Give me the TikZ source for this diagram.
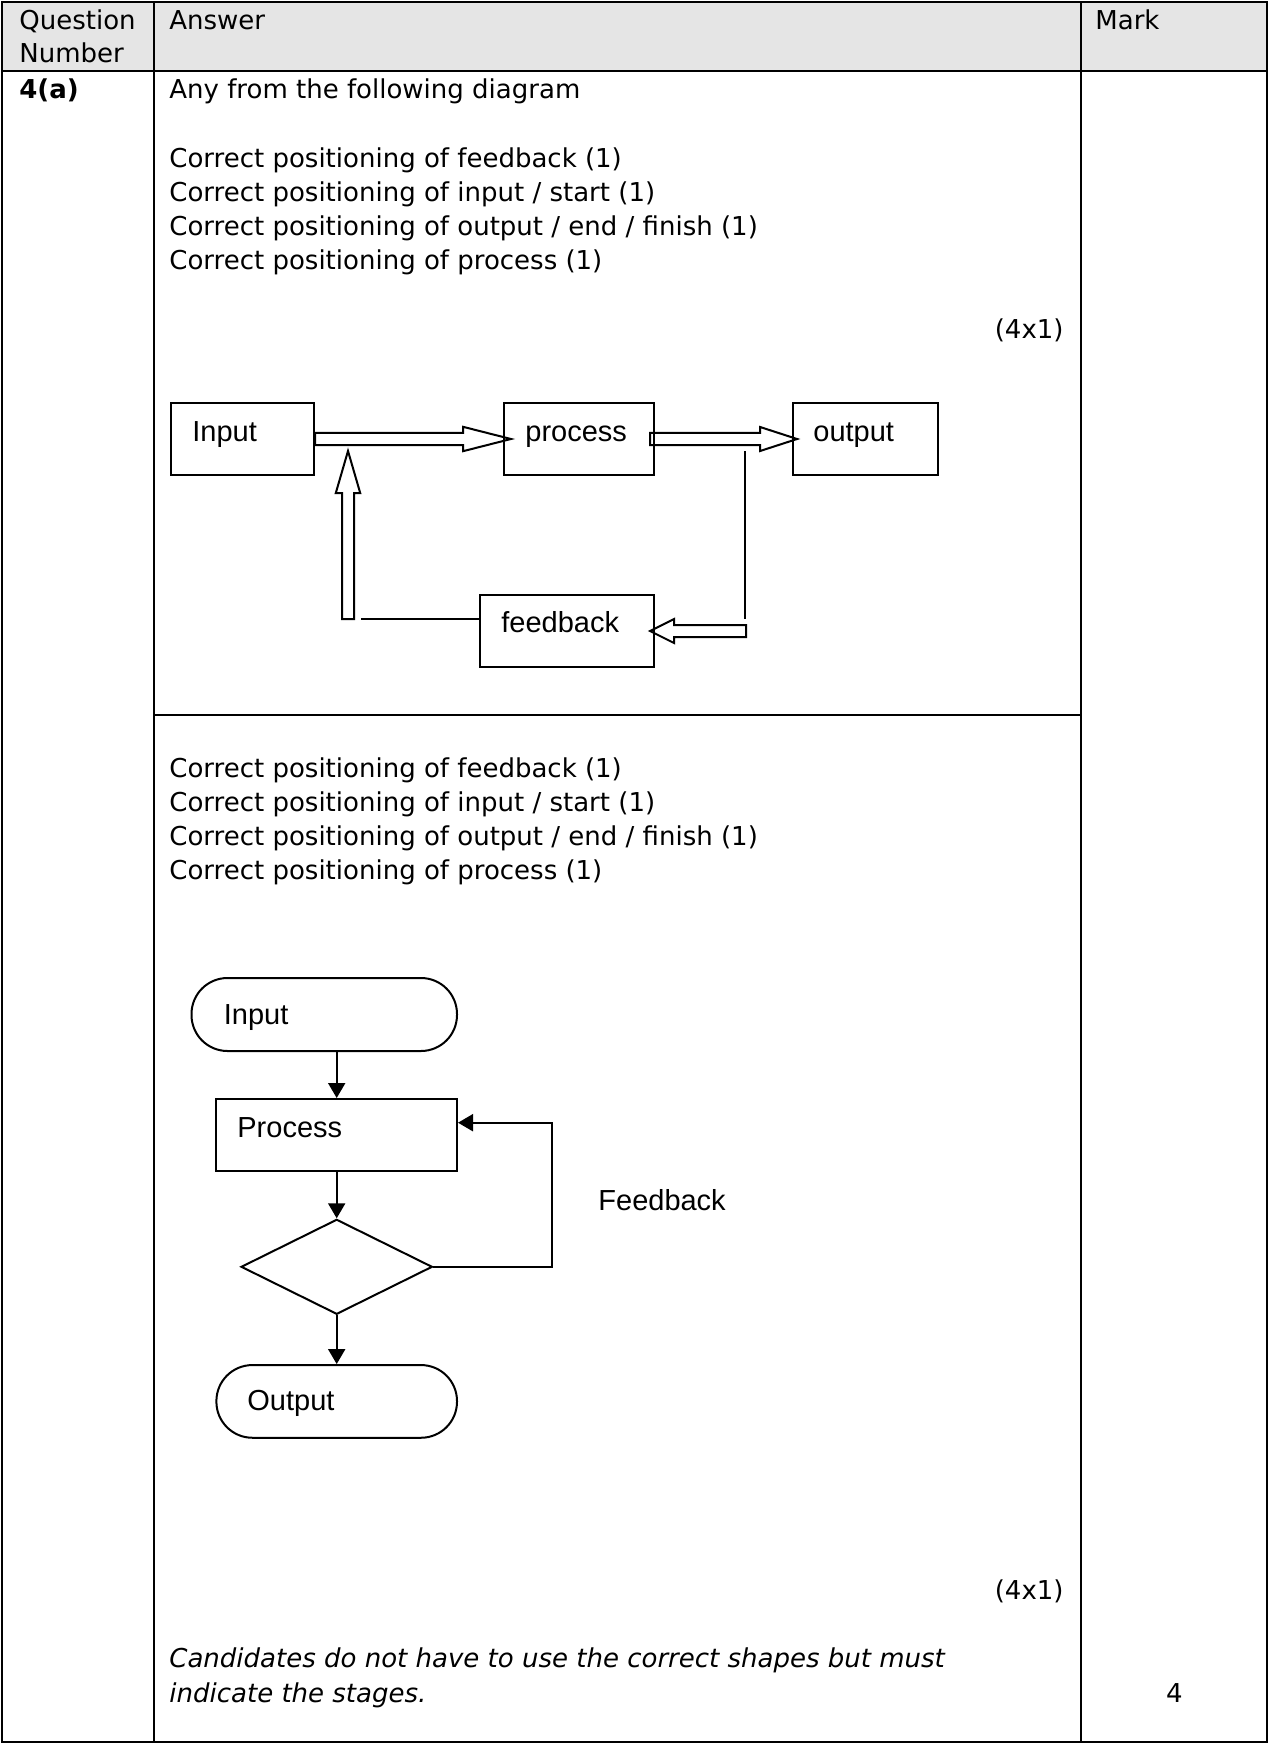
\documentclass[tikz,border=0pt]{standalone}
\usepackage{fontspec}
\setmainfont{DejaVu Sans}
\newfontfamily\arialfont{Liberation Sans}
\usetikzlibrary{calc,arrows.meta,shapes.geometric}

% hollow block arrow: start, tip, head length, shaft half width, head half width
\newcommand\hollowarrow[5]{%
  \coordinate (ha-s) at #1;
  \coordinate (ha-e) at #2;
  \coordinate (ha-b) at ($(ha-e)!#3!(ha-s)$);
  \draw[blockline]
    ($(ha-s)!#4!90:(ha-e)$) -- ($(ha-b)!#4!90:(ha-e)$) -- ($(ha-b)!#5!90:(ha-e)$)
    -- (ha-e)
    -- ($(ha-b)!#5!-90:(ha-e)$) -- ($(ha-b)!#4!-90:(ha-e)$) -- ($(ha-s)!#4!-90:(ha-e)$)
    -- cycle;
}

\begin{document}
\begin{tikzpicture}[x=0.5pt,y=-0.5pt,
  tbl/.style={line width=1.4pt},
  body/.style={anchor=base west,inner sep=0pt,font=\fontsize{13pt}{17pt}\selectfont},
  dtext/.style={anchor=base west,inner sep=0pt,font=\arialfont\fontsize{14.5pt}{17pt}\selectfont},
  box/.style={draw,line width=1pt,inner sep=0pt,minimum height=36pt},
  blockline/.style={line width=1pt,line join=miter},
  flow/.style={line width=1pt,-{Triangle[length=7.5pt,width=8.5pt]}},
  terminal/.style={draw,line width=1pt,inner sep=0pt,rounded corners=18pt}]
\useasboundingbox (0,0) rectangle (1269,1744);

% ---- table frame ----
\fill[black!10] (2,2) rectangle (1267,71);
\draw[tbl] (2,2) rectangle (1267,1742);
\draw[tbl] (2,71) -- (1267,71);
\draw[tbl] (154,2) -- (154,1742);
\draw[tbl] (1081,2) -- (1081,1742);
\draw[tbl] (154,715) -- (1081,715);

% ---- header row ----
\node[body] (hq1) at (19,29.5) {Question};
\node[body] (hq2) at (19,62.5) {Number};
\node[body] (hans) at (169,29.5) {Answer};
\node[body] (hmark) at (1095,29.5) {Mark};

% ---- answer text ----
\node[body,font=\fontsize{13pt}{17pt}\selectfont\bfseries] (qnum) at (19,98.5) {4(a)};
\node[body] (intro) at (169,98.5) {Any from the following diagram};
\node[body] (a1) at (169,167.5) {Correct positioning of feedback (1)};
\node[body] (a2) at (169,201.5) {Correct positioning of input / start (1)};
\node[body] (a3) at (169,235.5) {Correct positioning of output / end / finish (1)};
\node[body] (a4) at (169,269.5) {Correct positioning of process (1)};
\node[body,anchor=base east] (m1) at (1064,338.5) {(4x1)};

\node[body] (b1) at (169,777.5) {Correct positioning of feedback (1)};
\node[body] (b2) at (169,811.5) {Correct positioning of input / start (1)};
\node[body] (b3) at (169,845.5) {Correct positioning of output / end / finish (1)};
\node[body] (b4) at (169,879.5) {Correct positioning of process (1)};
\node[body,anchor=base east] (m2) at (1064,1599.5) {(4x1)};

\node[body,font=\fontsize{13pt}{17pt}\selectfont\itshape] (note1) at (169,1667.5) {Candidates do not have to use the correct shapes but must};
\node[body,font=\fontsize{13pt}{17pt}\selectfont\itshape] (note2) at (169,1702.5) {indicate the stages.};
\node[body,anchor=base] (total) at (1174.5,1702.5) {4};

% ---- block diagram ----
\node[box,minimum width=71.5pt] (in) at (242.5,439) {};
\node[box,minimum width=75pt] (proc) at (579,439) {};
\node[box,minimum width=72.7pt] (out) at (865.3,439) {};
\node[box,minimum width=87pt] (fb) at (567,631) {};

\node[dtext] (tin) at (192,441) {Input};
\node[dtext] (tproc) at (525,441) {process};
\node[dtext] (tout) at (813,441) {output};
\node[dtext] (tfb) at (501,632) {feedback};

\hollowarrow{(in.east)}{($(proc.west)+(8,0)$)}{24pt}{3.1pt}{6.1pt}
\hollowarrow{($(proc.east)+(-5,0)$)}{($(out.west)+(5.5,0)$)}{18.5pt}{3.1pt}{6pt}

\coordinate (up0) at (348,619);
\coordinate (up1) at (348,451);
\hollowarrow{(up0)}{(up1)}{21pt}{3pt}{6.1pt}
\coordinate (fbl) at (360.5,619);
\draw[blockline] (fb.west |- fbl) -- (fbl);

\coordinate (r1) at (745,451);
\coordinate (r2) at (745,619);
\draw[blockline] (r1) -- (r2);
\hollowarrow{($(fb.east)+(91,0)$)}{($(fb.east)+(-5,0)$)}{12pt}{3pt}{6pt}

% ---- flowchart ----
\node[terminal,minimum width=132.75pt,minimum height=36.5pt] (finp) at (324.25,1014.5) {};
\node[box,minimum width=120.3pt] (fproc) at (336.7,1135) {};
\node[draw,line width=1pt,shape=diamond,inner sep=0pt,minimum width=95.65pt,minimum height=47.5pt] (fdia) at (336.7,1266.8) {};
\node[terminal,minimum width=120.3pt,minimum height=36.35pt] (fout) at (336.7,1401.4) {};

\node[dtext] (tfinp) at (223.5,1024) {Input};
\node[dtext] (tfproc) at (237,1137) {Process};
\node[dtext] (tfback) at (598,1210) {Feedback};
\node[dtext] (tfout) at (247,1410) {Output};

\draw[flow] (fproc.north |- finp.south) -- (fproc.north);
\draw[flow] (fproc.south) -- (fdia.north);
\draw[flow] (fdia.south) -- (fout.north);
\coordinate (loop) at (552.4,1122.7);
\draw[flow,line join=miter] (fdia.east) -| (loop) -- (fproc.east |- loop);
\end{tikzpicture}
\end{document}
